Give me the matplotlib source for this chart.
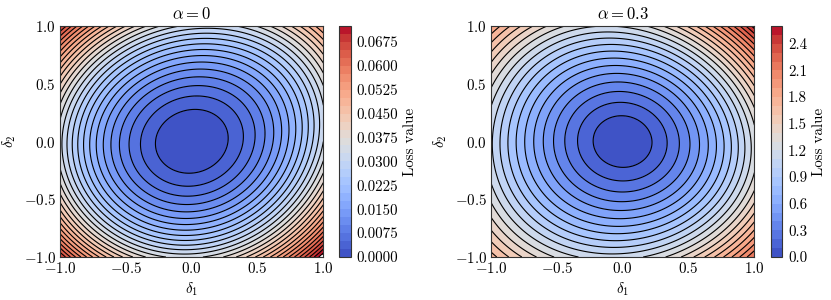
import numpy as np
import matplotlib
matplotlib.use("Agg")
import matplotlib.pyplot as plt

plt.rcParams["font.family"] = "serif"
plt.rcParams["font.serif"] = ["cmr10"]
plt.rcParams["mathtext.fontset"] = "cm"
plt.rcParams["axes.formatter.use_mathtext"] = True
plt.rcParams["font.size"] = 10.8

# loss surface parameters (one entry per panel)
titles = [r"$\alpha = 0$", r"$\alpha = 0.3$"]
scale = [0.033, 1.186]         # loss at (1, 0)
power = [1.0, 0.825]           # exponent on the quadratic form
cross = [-0.17, 0.057]         # xy term inside the quadratic form
skew_diag = [-0.00094, 0.05]   # (d1 + d2)^3 term
skew_anti = [0.00044, 0.019]   # (d1 - d2)^3 term
level_step = [0.0025, 0.1]
level_top = [0.0725, 2.6]
cbar_ticks = [np.arange(0, 0.07, 0.0075), np.arange(0, 2.5, 0.3)]
cbar_fmt = ["%.4f", "%.1f"]

d1 = np.linspace(-1, 1, 301)
d2 = np.linspace(-1, 1, 301)
X, Y = np.meshgrid(d1, d2)

fig = plt.figure(figsize=(8.31, 3.0), dpi=100)
ax_pos = [[0.0722, 0.1433, 0.3169, 0.77], [0.5909, 0.1433, 0.3169, 0.77]]
cb_pos = [[0.408, 0.1433, 0.0141, 0.77], [0.9274, 0.1433, 0.0141, 0.77]]

for k in range(2):
    q = X**2 + Y**2 + cross[k] * X * Y
    Z = scale[k] * q**power[k] + skew_diag[k] * (X + Y)**3 + skew_anti[k] * (X - Y)**3
    Z = np.clip(Z, 0, None)
    levels = np.arange(0, level_top[k] + level_step[k] / 2, level_step[k])

    ax = fig.add_axes(ax_pos[k])
    cf = ax.contourf(X, Y, Z, levels=levels, cmap="coolwarm")
    ax.contour(X, Y, Z, levels=levels, colors="black", linewidths=0.8)
    ax.set_title(titles[k], fontsize=12, pad=5)
    ax.set_xlabel(r"$\delta_1$", labelpad=3)
    ax.set_ylabel(r"$\delta_2$", labelpad=4)
    ax.set_xticks([-1.0, -0.5, 0.0, 0.5, 1.0])
    ax.set_yticks([-1.0, -0.5, 0.0, 0.5, 1.0])
    ax.tick_params(length=0, pad=3)
    for s in ax.spines.values():
        s.set_color("#333333")

    cax = fig.add_axes(cb_pos[k])
    cb = fig.colorbar(cf, cax=cax, ticks=cbar_ticks[k], format=cbar_fmt[k])
    cb.set_label("Loss value", labelpad=4)
    cb.ax.tick_params(length=0, pad=4)
    cb.outline.set_edgecolor("#333333")

fig.savefig("out.png", dpi=100)
